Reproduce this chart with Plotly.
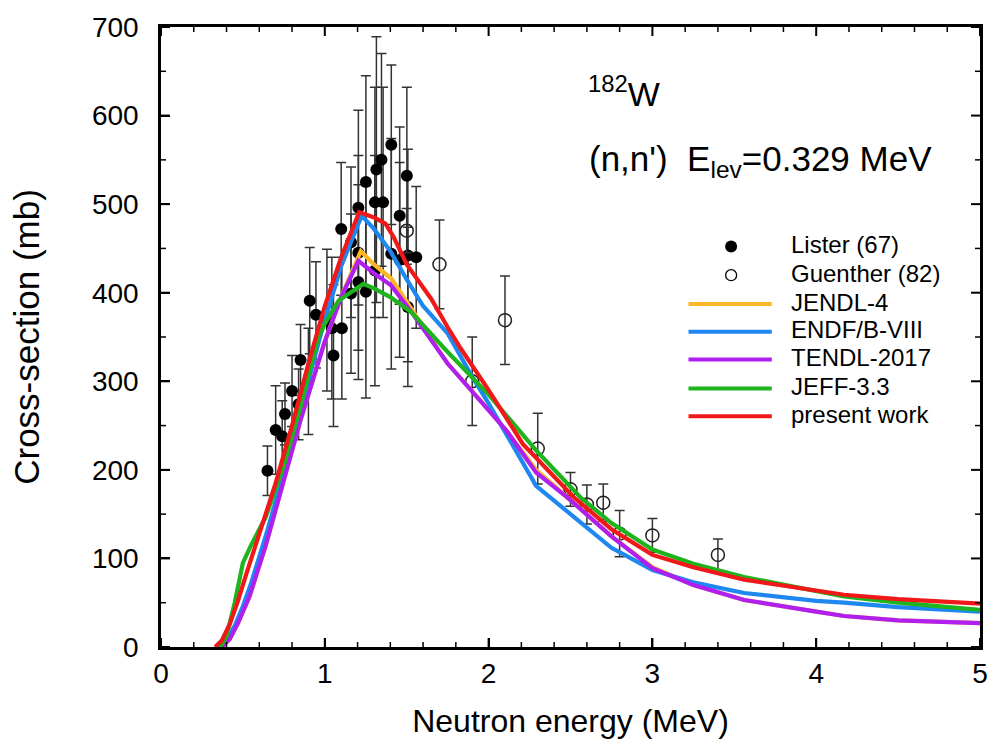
import plotly.graph_objects as go

# ---------------- data ----------------
lister_E = [0.65, 0.70, 0.74, 0.757, 0.80, 0.84, 0.852, 0.90, 0.908, 0.946, 1.013, 1.043, 1.053,
            1.10, 1.104, 1.16, 1.16, 1.205, 1.205, 1.205, 1.251, 1.251, 1.306, 1.306, 1.315,
            1.346, 1.356, 1.406, 1.406, 1.457, 1.457, 1.501, 1.507, 1.507, 1.558]
lister_xs = [199, 245, 238, 263, 289, 274, 324, 300, 391, 375, 369, 360, 329,
             472, 360, 457, 399, 496, 445, 412, 525, 401, 502, 425, 539,
             550, 502, 567, 444, 487, 437, 532, 442, 384, 440]
lister_err = [28, 50, 40, 35, 40, 40, 40, 60, 60, 60, 80, 80, 80,
              75, 80, 85, 90, 110, 110, 110, 120, 120, 130, 130, 150,
              120, 130, 90, 130, 100, 110, 100, 120, 90, 80]

guenther_E = [1.50, 1.70, 1.90, 2.10, 2.30, 2.50, 2.60, 2.70, 2.80, 3.00, 3.40]
guenther_xs = [470, 432, 300, 369, 224, 178, 161, 163, 128, 126, 104]
guenther_err = [25, 50, 50, 50, 40, 19, 22, 21, 26, 19, 18]

jendl_E = [0.37, 0.42, 0.47, 0.54, 0.64, 0.74, 0.85, 1.00, 1.10, 1.22, 1.30, 1.406, 1.50, 1.75,
           2.00, 2.11, 2.29, 2.48, 2.75, 3.00, 3.25, 3.56, 4.00, 4.17, 4.50, 5.00]
jendl_xs = [0, 9, 27, 57, 115, 180, 255, 345, 395, 447, 432, 416, 390, 320,
            268, 244, 200, 169, 125, 90, 70, 53, 40, 35, 30, 27]

endf_E = [0.35, 0.40, 0.45, 0.50, 0.55, 0.65, 0.75, 0.85, 0.98, 1.10, 1.225, 1.30, 1.40, 1.50,
          1.60, 1.75, 1.90, 2.00, 2.29, 2.50, 2.75, 3.00, 3.25, 3.56, 4.00, 4.17, 4.50, 5.00]
endf_xs = [0, 8, 24, 46, 72, 132, 197, 265, 356, 430, 487, 472, 447, 415,
           385, 354, 305, 275, 182, 150, 112, 87, 73, 61, 52, 50, 45, 40]

tendl_E = [0.37, 0.42, 0.47, 0.54, 0.64, 0.74, 0.85, 1.00, 1.10, 1.205, 1.30, 1.406, 1.53,
           1.75, 2.00, 2.11, 2.29, 2.48, 2.75, 3.00, 3.25, 3.56, 4.00, 4.17, 4.50, 5.00]
tendl_xs = [0, 9, 27, 57, 115, 180, 255, 345, 395, 436, 422, 408, 378,
            320, 268, 244, 197, 169, 125, 89, 70, 53, 40, 35, 30, 27]

jeff_E = [0.36, 0.40, 0.45, 0.50, 0.55, 0.64, 0.75, 0.85, 0.96, 1.00, 1.084, 1.235, 1.30,
          1.40, 1.528, 1.73, 2.00, 2.29, 2.56, 2.75, 3.00, 3.25, 3.56, 4.00, 4.17, 4.50, 5.00]
jeff_xs = [0, 12, 50, 95, 115, 147, 205, 270, 350, 365, 391, 410, 405,
           395, 378, 337, 285, 222, 169, 140, 110, 94, 79, 63, 57, 50, 42]

present_E = [0.33, 0.37, 0.42, 0.47, 0.52, 0.60, 0.70, 0.80, 0.90, 1.00, 1.10, 1.21, 1.30,
             1.37, 1.42, 1.50, 1.65, 1.75, 1.83, 2.00, 2.21, 2.52, 2.75, 3.00, 3.25, 3.56,
             4.00, 4.17, 4.50, 5.00]
present_xs = [0, 7, 26, 52, 82, 128, 185, 250, 320, 385, 440, 491, 485,
              478, 463, 432, 393, 361, 337, 290, 229, 169, 133, 104, 90, 76,
              63, 59, 54, 49]

x_ticks = [0, 1, 2, 3, 4, 5]
y_ticks = [0, 100, 200, 300, 400, 500, 600, 700]
x_minor_step = 0.2
y_minor_step = 50

curve_series = [
    ("JENDL-4", jendl_E, jendl_xs, "#FFB727"),
    ("ENDF/B-VIII", endf_E, endf_xs, "#1E88F0"),
    ("TENDL-2017", tendl_E, tendl_xs, "#B01EF0"),
    ("JEFF-3.3", jeff_E, jeff_xs, "#1EB41E"),
    ("present work", present_E, present_xs, "#F01818"),
]

FONT = "Arial, Liberation Sans, Helvetica, sans-serif"

fig = go.Figure()

fig.add_trace(go.Scatter(
    x=lister_E, y=lister_xs, mode="markers", name="Lister (67)",
    marker=dict(symbol="circle", size=12, color="black"),
    error_y=dict(type="data", array=lister_err, color="#333333", thickness=1.5, width=5),
    showlegend=False))

fig.add_trace(go.Scatter(
    x=guenther_E, y=guenther_xs, mode="markers", name="Guenther (82)",
    marker=dict(symbol="circle-open", size=13, color="#222222", line=dict(width=1.5)),
    error_y=dict(type="data", array=guenther_err, color="#333333", thickness=1.5, width=5),
    showlegend=False))

for name, ex, ey, col in curve_series:
    fig.add_trace(go.Scatter(x=ex, y=ey, mode="lines", name=name,
                             line=dict(color=col, width=4.2), showlegend=False))

shapes = []
annotations = []

# ---------------- tick marks (inside, on all four sides) ----------------
def tick_positions(lo, hi, step):
    n = int(round((hi - lo) / step))
    return [lo + i * step for i in range(n + 1)]

x_minor = [v for v in tick_positions(x_ticks[0], x_ticks[-1], x_minor_step)
           if min(abs(v - t) for t in x_ticks) > 1e-6]
y_minor = [v for v in tick_positions(y_ticks[0], y_ticks[-1], y_minor_step)
           if min(abs(v - t) for t in y_ticks) > 1e-6]

for vals, ln, w in [(x_ticks, 9, 2), (x_minor, 5, 1.5)]:
    for v in vals:
        for anchor, sgn in [(0, 1), (1, -1)]:
            shapes.append(dict(type="line", xref="x", yref="paper",
                               ysizemode="pixel", yanchor=anchor,
                               x0=v, x1=v, y0=0, y1=sgn * ln,
                               line=dict(color="black", width=w), layer="above"))
for vals, ln, w in [(y_ticks, 9, 2), (y_minor, 5, 1.5)]:
    for v in vals:
        for anchor, sgn in [(0, 1), (1, -1)]:
            shapes.append(dict(type="line", xref="paper", yref="y",
                               xsizemode="pixel", xanchor=anchor,
                               y0=v, y1=v, x0=0, x1=sgn * ln,
                               line=dict(color="black", width=w), layer="above"))

# ---------------- manual legend (paper coords) ----------------
# plot area: 161..987 px horizontally, 23..647.5 px vertically
def px2paper_x(px):
    return (px - 161) / (987 - 161)

def px2paper_y(py):
    return (647.5 - py) / (647.5 - 23)

marker_rows = [("Lister (67)", 244, True), ("Guenther (82)", 273, False)]
for label, py, filled in marker_rows:
    r = 6 if filled else 5.5
    shapes.append(dict(type="circle", xref="paper", yref="paper",
                       xsizemode="pixel", ysizemode="pixel",
                       xanchor=px2paper_x(736), yanchor=px2paper_y(py),
                       x0=-r, x1=r, y0=-r, y1=r,
                       fillcolor="black" if filled else "white",
                       line=dict(color="black", width=0 if filled else 1.3)))
    annotations.append(dict(text=label, xref="paper", yref="paper",
                            x=px2paper_x(794), y=px2paper_y(py - 2), xanchor="left",
                            yanchor="middle", showarrow=False,
                            font=dict(family=FONT, size=24, color="black")))

line_rows_y = [302, 330, 358, 387, 415]
for (name, ex, ey, col), py in zip(curve_series, line_rows_y):
    shapes.append(dict(type="line", xref="paper", yref="paper",
                       x0=px2paper_x(693), x1=px2paper_x(777),
                       y0=px2paper_y(py), y1=px2paper_y(py),
                       line=dict(color=col, width=4)))
    annotations.append(dict(text=name, xref="paper", yref="paper",
                            x=px2paper_x(794), y=px2paper_y(py - 2), xanchor="left",
                            yanchor="middle", showarrow=False,
                            font=dict(family=FONT, size=24, color="black")))

annotations.append(dict(text="<sup>182</sup>W", xref="paper", yref="paper",
                        x=px2paper_x(590), y=px2paper_y(88), xanchor="left",
                        yanchor="middle", showarrow=False,
                        font=dict(family=FONT, size=34, color="black")))
annotations.append(dict(text="(n,n')  E<sub>lev</sub>=0.329 MeV", xref="paper", yref="paper",
                        x=px2paper_x(591), y=px2paper_y(158), xanchor="left",
                        yanchor="middle", showarrow=False,
                        font=dict(family=FONT, size=35, color="black")))

axis_common = dict(
    showline=True, linecolor="black", linewidth=2.5, mirror=True,
    ticks="inside", ticklen=9, tickwidth=2, tickcolor="black",
    showgrid=False, zeroline=False,
    tickfont=dict(family=FONT, size=28, color="black"),
)

fig.update_xaxes(range=[0, 5], tickmode="array", tickvals=x_ticks,
                 ticktext=[str(v) for v in x_ticks],
                 title=dict(text="Neutron energy (MeV)", standoff=22,
                            font=dict(family=FONT, size=32, color="black")),
                 **axis_common)
fig.update_yaxes(range=[0, 700], tickmode="array", tickvals=y_ticks,
                 ticktext=[str(v) for v in y_ticks],
                 ticklabelstandoff=14,
                 title=dict(text="Cross-section (mb)", standoff=42,
                            font=dict(family=FONT, size=35, color="black")),
                 **axis_common)

fig.update_layout(
    width=1000, height=756,
    margin=dict(l=161, r=13, t=23, b=108.5),
    paper_bgcolor="white", plot_bgcolor="white",
    shapes=shapes, annotations=annotations,
    showlegend=False,
    font=dict(family=FONT, color="black"),
)

fig.write_html("out.html")
